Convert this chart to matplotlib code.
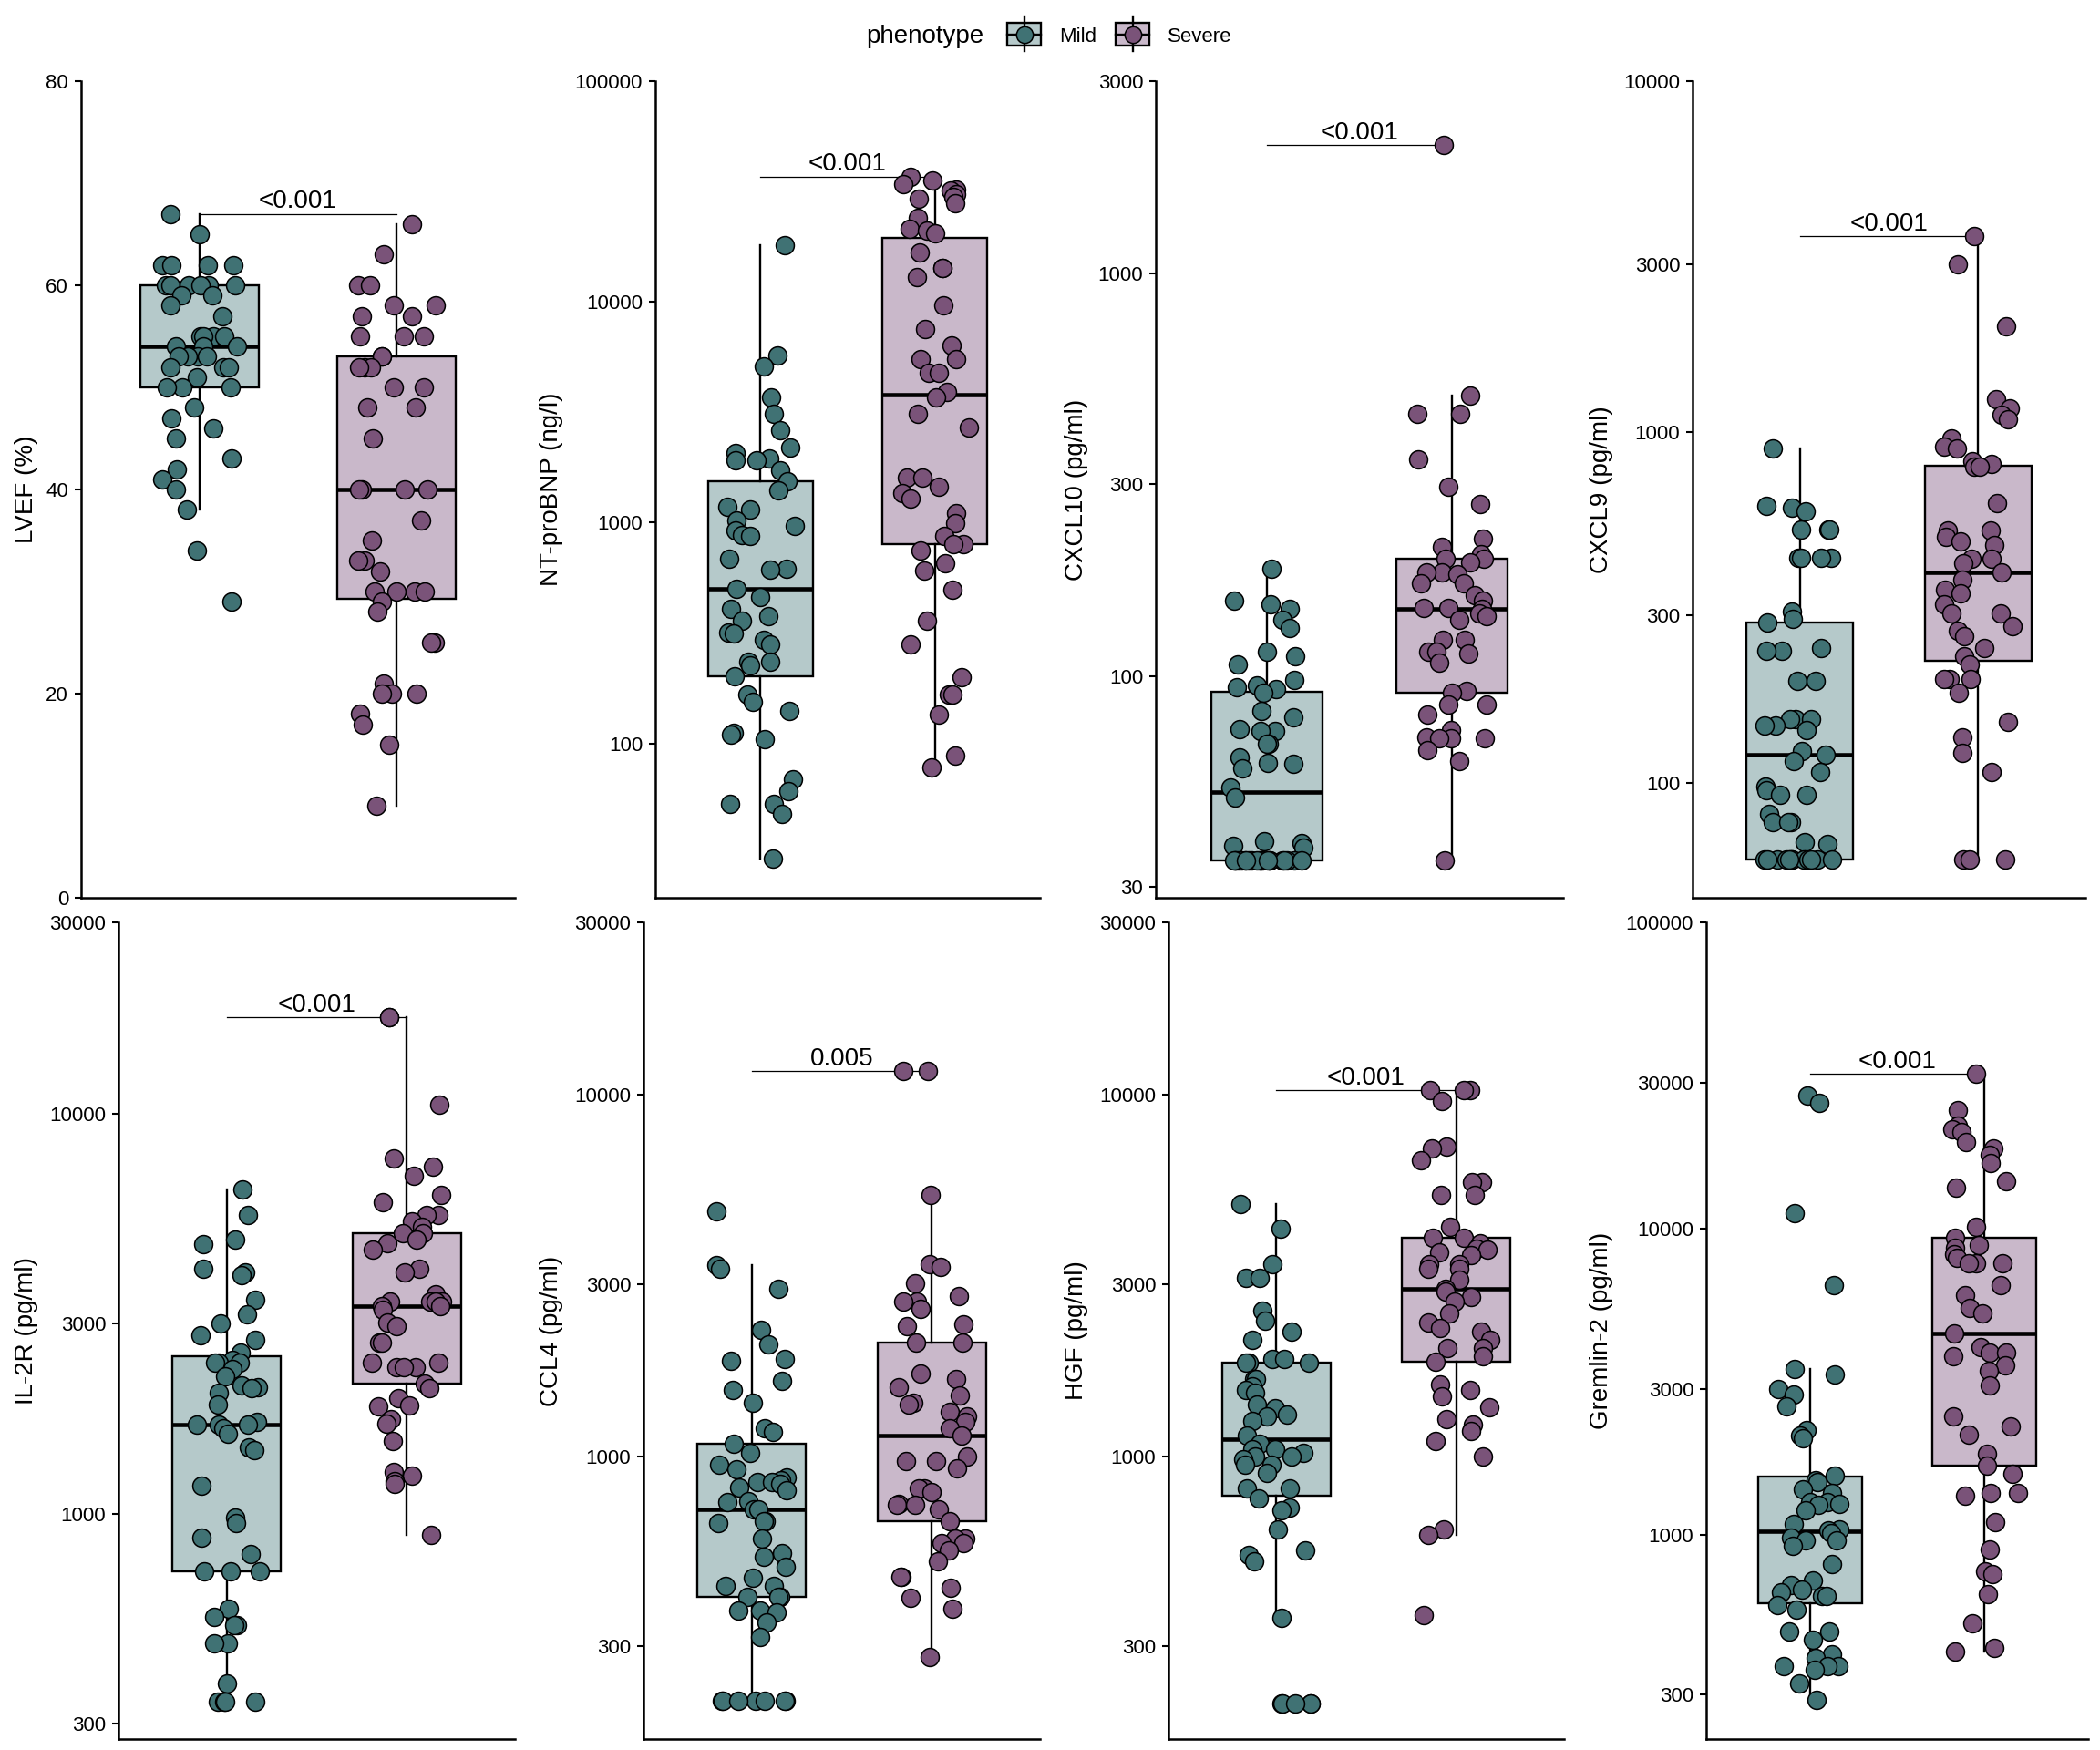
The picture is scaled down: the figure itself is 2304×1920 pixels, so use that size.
import numpy as np
import matplotlib
matplotlib.use("Agg")
import matplotlib.pyplot as plt
from matplotlib.patches import Rectangle
from matplotlib.ticker import FixedLocator, FixedFormatter, NullLocator

plt.rcParams['font.family'] = ['Liberation Sans', 'DejaVu Sans']

# ---------------- data ----------------
groups = ["Mild", "Severe"]
legend_title = "phenotype"

lvef_mild = [67, 65, 62, 62, 62, 62, 60, 60, 60, 60, 60, 60, 59, 59, 58, 57, 55, 55, 55, 55,
             54, 54, 54, 53, 53, 53, 53, 52, 52, 52, 51, 50, 50, 50, 48, 47, 46, 45, 43, 42,
             41, 40, 38, 34, 29]
lvef_severe = [66, 63, 60, 60, 58, 58, 57, 57, 55, 55, 55, 53, 53, 52, 52, 52, 50, 50, 48, 48,
               45, 40, 40, 40, 40, 37, 35, 33, 33, 32, 30, 30, 30, 30, 29, 28, 25, 25, 21, 20,
               20, 20, 18, 17, 15, 9]

ntprobnp_mild = [18100, 5710, 5100, 3680, 3120, 2630, 2190, 2070, 1950, 1920, 1920, 1730, 1545,
                 1400, 1186, 1147, 1028, 967, 923, 877, 875, 686, 619, 614, 502, 460, 406, 377,
                 360, 317, 314, 296, 281, 234, 234, 225, 202, 166, 155, 141, 112, 110, 105, 69,
                 61, 53, 53, 48, 30]
ntprobnp_severe = [37000, 35500, 34000, 32400, 31900, 30700, 30000, 29400, 28100, 24100, 21400,
                   21000, 20500, 16800, 14300, 14300, 13000, 9660, 7550, 6360, 5520, 5520, 4780,
                   4780, 3920, 3700, 3120, 2700, 1600, 1600, 1460, 1360, 1290, 1100, 995, 872,
                   800, 800, 746, 655, 605, 496, 360, 280, 199, 166, 166, 135, 88, 78]

cxcl10_mild = [185, 154, 151, 147, 138, 132, 115, 112, 107, 98, 95, 94, 93, 91, 82, 79, 74, 73,
               73, 68, 68, 63, 61, 60.5, 59, 53, 50, 39, 38.5, 38, 37.5,
               35, 35, 35, 35, 35, 35, 35, 35, 35, 35, 35, 35, 35, 35, 35, 35, 35, 35, 35, 35, 35]
cxcl10_severe = [2080, 497, 448, 448, 345, 296, 267, 220, 209, 201, 196, 196, 192, 181, 181, 179,
                 170, 170, 159, 154, 148, 148, 147, 143, 141, 138, 123, 123, 115, 115, 114, 108,
                 92, 91, 85, 85, 80.5, 73.5, 70.6, 70, 70, 70, 65.7, 61.6, 35]

cxcl9_mild = [898, 615, 608, 595, 527, 527, 527, 437, 437, 437, 437, 308, 294, 287, 242, 238, 238,
              195, 195, 152, 152, 152, 146, 146, 141, 123, 120, 115, 107, 97.5, 95, 92.5, 92.5,
              81.5, 77, 77, 77, 67.6, 67,
              60.4, 60.4, 60.4, 60.4, 60.4, 60.4, 60.4, 60.4, 60.4, 60.4, 60.4, 60.4, 60.4, 60.4]
cxcl9_severe = [3610, 3000, 2005, 1241, 1167, 1118, 1086, 958, 907, 898, 824, 812, 794, 794, 627,
                525, 525, 501, 487, 475, 434, 434, 422, 397, 379, 356, 346, 322, 303, 303, 279,
                272, 262, 242, 229, 217, 198, 198, 198, 181, 149, 135, 122, 107, 60.4, 60.4, 60.4]

il2r_mild = [6470, 5600, 4840, 4720, 4105, 4020, 3955, 3440, 3150, 3000, 2795, 2725, 2530, 2430,
             2390, 2390, 2390, 2300, 2210, 2100, 2080, 2060, 2010, 1880, 1700, 1675, 1675, 1675,
             1640, 1590, 1470, 1445, 1182, 981, 952, 876, 798, 721, 721, 721, 581, 556, 529, 529,
             476, 476, 378, 341, 341, 341, 341]
il2r_severe = [17400, 17400, 10540, 7740, 7390, 7010, 6270, 6010, 5600, 5600, 5390, 5210, 5020,
               5020, 4840, 4750, 4580, 4105, 4020, 3550, 3390, 3390, 3390, 3390, 3305, 3305, 3235,
               3010, 2950, 2680, 2680, 2390, 2390, 2335, 2335, 2335, 2125, 2065, 1954, 1866, 1855,
               1729, 1687, 1528, 1277, 1250, 1211, 1193, 889]

ccl4_mild = [4775, 3390, 3310, 2910, 2250, 2050, 1864, 1838, 1625, 1535, 1408, 1199, 1175, 1090,
             1028, 950, 925, 879, 864, 851, 851, 843, 823, 809, 755, 748, 718, 718, 664, 664, 656,
             593, 541, 531, 496, 463, 440, 440, 411, 411, 411, 377, 377, 371, 349, 318,
             212, 212, 212, 212, 212, 212, 212]
ccl4_severe = [11660, 11660, 5300, 3405, 3350, 3020, 2775, 2682, 2682, 2563, 2330, 2298, 2072,
               2072, 1698, 1642, 1560, 1482, 1408, 1394, 1328, 1292, 1250, 1199, 1146, 1000, 973,
               973, 927, 820, 820, 800, 743, 735, 735, 714, 665, 593, 593, 579, 579, 550, 513, 466,
               466, 436, 407, 380, 279]

hgf_mild = [4990, 4280, 3400, 3115, 3115, 2535, 2375, 2219, 2108, 1864, 1864, 1820, 1820, 1820,
            1642, 1642, 1570, 1535, 1507, 1394, 1361, 1306, 1292, 1258, 1146, 1090, 1052, 1052,
            1024, 1000, 1000, 984, 950, 950, 902, 820, 820, 769, 723, 710, 630, 553, 535, 513,
            358, 208, 208, 208, 208, 208]
hgf_severe = [10310, 10310, 10310, 9630, 7220, 7100, 6600, 5760, 5760, 5310, 5310, 4325, 4040,
              4040, 3890, 3760, 3730, 3670, 3610, 3400, 3400, 3310, 3310, 3090, 2908, 2870, 2763,
              2680, 2494, 2352, 2275, 2219, 2100, 2003, 2003, 1898, 1834, 1588, 1535, 1467, 1374,
              1270, 1228, 1178, 1109, 1000, 630, 609, 365]

gremlin2_mild = [27100, 25800, 11190, 6540, 3470, 3330, 3000, 2860, 2620, 2200, 2115, 2072, 1560,
                 1511, 1487, 1411, 1366, 1275, 1275, 1259, 1249, 1199, 1083, 1042, 1034, 1012,
                 980, 960, 960, 922, 801, 710, 687, 663, 647, 629, 629, 587, 568, 483, 483, 455,
                 406, 395, 371, 371, 371, 361, 327, 288]
gremlin2_severe = [32000, 24300, 21700, 21100, 20700, 19100, 18300, 17400, 16400, 14270, 13640,
                   10120, 9330, 8860, 8680, 8240, 8010, 7700, 7700, 7700, 6540, 6040, 5520, 5280,
                   4550, 4110, 3920, 3920, 3820, 3570, 3430, 3075, 2432, 2262, 2128, 1834, 1678,
                   1579, 1371, 1371, 1337, 1097, 893, 760, 745, 641, 514, 428, 415]

y_labels = ["LVEF (%)", "NT-proBNP (ng/l)", "CXCL10 (pg/ml)", "CXCL9 (pg/ml)",
            "IL-2R (pg/ml)", "CCL4 (pg/ml)", "HGF (pg/ml)", "Gremlin-2 (pg/ml)"]
p_labels = ["<0.001", "<0.001", "<0.001", "<0.001", "<0.001", "0.005", "<0.001", "<0.001"]
y_ticks = [[0, 20, 40, 60, 80],
           [100, 1000, 10000, 100000],
           [30, 100, 300, 1000, 3000],
           [100, 300, 1000, 3000, 10000],
           [300, 1000, 3000, 10000, 30000],
           [300, 1000, 3000, 10000, 30000],
           [300, 1000, 3000, 10000, 30000],
           [300, 1000, 3000, 10000, 30000, 100000]]
y_limits = [(0, 80), (20, 100000), (28.2, 3000), (47, 10000),
            (275, 30000), (166, 30000), (166, 30000), (215, 100000)]
log_scale = [False, True, True, True, True, True, True, True]
mild_sets = [lvef_mild, ntprobnp_mild, cxcl10_mild, cxcl9_mild,
             il2r_mild, ccl4_mild, hgf_mild, gremlin2_mild]
severe_sets = [lvef_severe, ntprobnp_severe, cxcl10_severe, cxcl9_severe,
               il2r_severe, ccl4_severe, hgf_severe, gremlin2_severe]

# ---------------- style ----------------
MILD_PT, SEV_PT = '#407274', '#7a5379'
MILD_BOX, SEV_BOX = '#b5c9ca', '#c9b8ca'
W, H = 2304, 1920

# axes frames in pixels: (left, right, top, bottom), and left edge of grid cell
frames = [(89, 565, 89, 985), (719, 1141, 89, 985), (1268, 1715, 89, 985), (1857, 2288, 89, 985),
          (130, 565, 1012, 1908), (706, 1141, 1012, 1908), (1282, 1716, 1012, 1908),
          (1872, 2291, 1012, 1908)]
cell_left = [0, 576, 1152, 1728, 0, 576, 1152, 1728]

fig = plt.figure(figsize=(W / 100, H / 100), dpi=100)


def box_stats(vals, log):
    v = np.asarray(vals, float)
    t = np.log10(v) if log else v
    q1, med, q3 = np.percentile(t, [25, 50, 75])
    iqr = q3 - q1
    lo = t[t >= q1 - 1.5 * iqr].min()
    hi = t[t <= q3 + 1.5 * iqr].max()
    f = (lambda x: 10 ** x) if log else (lambda x: x)
    return dict(med=f(med), q1=f(q1), q3=f(q3), whislo=f(lo), whishi=f(hi), fliers=[])


rng = np.random.default_rng(11)

for i in range(8):
    l, r, t, b = frames[i]
    ax = fig.add_axes([l / W, 1 - b / H, (r - l) / W, (b - t) / H])
    log = log_scale[i]
    if log:
        ax.set_yscale('log')
    mild, sev = mild_sets[i], severe_sets[i]
    stats = [box_stats(mild, log), box_stats(sev, log)]
    bp = ax.bxp(stats, positions=[1, 2], widths=0.6, patch_artist=True,
                showfliers=False, showcaps=False,
                boxprops=dict(edgecolor='black', linewidth=1.7),
                medianprops=dict(color='black', linewidth=3.3, solid_capstyle='butt'),
                whiskerprops=dict(color='black', linewidth=1.7))
    for patch, fc in zip(bp['boxes'], [MILD_BOX, SEV_BOX]):
        patch.set_facecolor(fc)
    for k, (vals, col) in enumerate([(mild, MILD_PT), (sev, SEV_PT)]):
        xs = (k + 1) + rng.uniform(-0.2, 0.2, len(vals))
        ax.scatter(xs, vals, s=205, facecolor=col, edgecolor='black', linewidth=1.1,
                   zorder=3, clip_on=False)

    # significance bracket
    ytop = max(max(mild), max(sev))
    ax.plot([1, 2], [ytop, ytop], color='black', linewidth=0.9, zorder=2)
    ax.annotate(p_labels[i], xy=(1.5, ytop), xytext=(0, 4.5), textcoords='offset points',
                ha='center', va='baseline', fontsize=20)

    ax.set_xlim(0.4, 2.6)
    ax.set_ylim(*y_limits[i])
    ax.yaxis.set_major_locator(FixedLocator(y_ticks[i]))
    ax.yaxis.set_major_formatter(FixedFormatter([str(v) for v in y_ticks[i]]))
    ax.yaxis.set_minor_locator(NullLocator())
    ax.set_xticks([])
    for s in ['top', 'right']:
        ax.spines[s].set_visible(False)
    for s in ['left', 'bottom']:
        ax.spines[s].set_linewidth(1.8)
    ax.tick_params(axis='y', length=5, width=1.5, pad=5, labelsize=16, colors='black')
    ax.set_ylabel(y_labels[i], fontsize=20)
    ax.yaxis.set_label_coords((cell_left[i] + 29 - l) / (r - l), 0.5)
    ax.yaxis.label.set_verticalalignment('center')
    ax.patch.set_alpha(0)

# ---------------- legend ----------------
lax = fig.add_axes([0, 1 - 80 / H, 1, 80 / H])
lax.set_xlim(0, W)
lax.set_ylim(80, 0)
lax.axis('off')
lax.text(950, 40, legend_title, fontsize=20, ha='left', va='center')
for x0, fc, pc, name in [(1105, MILD_BOX, MILD_PT, groups[0]), (1224, SEV_BOX, SEV_PT, groups[1])]:
    lax.add_patch(Rectangle((x0, 25), 37, 25, facecolor=fc, edgecolor='black', linewidth=1.7))
    lax.plot([x0, x0 + 37], [37.5, 37.5], color='black', linewidth=1.7)
    lax.plot([x0 + 18.5, x0 + 18.5], [19, 56], color='black', linewidth=1.7)
    lax.scatter([x0 + 18.5], [37.5], s=175, facecolor=pc, edgecolor='black', linewidth=1.1,
                zorder=3)
    lax.text(x0 + 57, 40, name, fontsize=16, ha='left', va='center')

fig.savefig('out.png', dpi=100)
